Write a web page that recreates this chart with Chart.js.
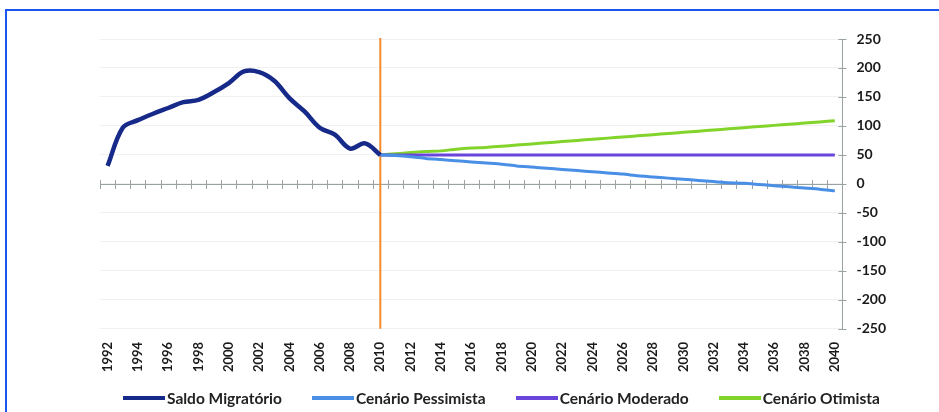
<!DOCTYPE html>
<html>
<head>
<meta charset="utf-8">
<script src="https://cdn.jsdelivr.net/npm/chart.js@4.4.1/dist/chart.umd.min.js"></script>
<style>
  html, body { margin: 0; padding: 0; background: #fff; overflow: hidden; }
  #marco { position: absolute; left: 5px; top: 9px; width: 2000px; height: 1000px;
           border-left: 2px solid #1a56ee; border-top: 2px solid #1a56ee; }
  #grafico { position: absolute; left: 0; top: 0; }
  #legenda { position: absolute; left: 123px; top: 389px; display: flex; gap: 30px;
             font: bold 15.5px Lato, "Open Sans", sans-serif; color: #222; white-space: nowrap; }
  #legenda .item { display: flex; align-items: center; }
  #legenda .traco { width: 42px; height: 4px; margin-right: 2px; }
</style>
</head>
<body>
<div id="marco"></div>
<canvas id="grafico" width="939" height="412"></canvas>
<div id="legenda"></div>
<script>
// Anos do eixo horizontal (1992-2040)
const anos = [];
for (let a = 1992; a <= 2040; a++) anos.push(String(a));

// Saldo migratorio observado 1992-2010
const saldoMigratorio = [31, 97, 110, 121, 131, 141, 145, 158, 174, 194, 193, 178, 148, 125, 97, 85, 61, 70, 50];

// Cenarios 2010-2040
const cenarioPessimista = [50, 49, 47, 44, 42, 40, 38, 36, 34, 31, 29, 27, 25, 23, 21, 19, 17, 14, 12, 10, 8, 6, 4, 2, 1, -1, -3, -5, -7, -9, -12];
const cenarioModerado = [50, 50, 50, 50, 50, 50, 50, 50, 50, 50, 50, 50, 50, 50, 50, 50, 50, 50, 50, 50, 50, 50, 50, 50, 50, 50, 50, 50, 50, 50, 50];
const cenarioOtimista = [50, 52, 54, 56, 57, 60, 62, 63, 65, 67, 69, 71, 73, 75, 77, 79, 81, 83, 85, 87, 89, 91, 93, 95, 97, 99, 101, 103, 105, 107, 109];

const yTicks = [-250, -200, -150, -100, -50, 0, 50, 100, 150, 200, 250];
const anoCorte = '2010';

// completa com null para alinhar com o eixo
const inicioCenarios = anos.indexOf(anoCorte);
const antes = (arr) => arr.concat(new Array(anos.length - arr.length).fill(null));
const depois = (arr) => new Array(inicioCenarios).fill(null).concat(arr);

const eixoCero = {
  id: 'eixoCero',
  beforeDatasetsDraw(chart) {
    const { ctx, chartArea, scales: { x, y } } = chart;
    const y0 = Math.round(y.getPixelForValue(0));
    const passo = x.getPixelForValue(1) - x.getPixelForValue(0);
    ctx.save();
    ctx.strokeStyle = '#9aa3a3';
    ctx.lineWidth = 1;
    ctx.beginPath();
    ctx.moveTo(chartArea.left, y0 + 0.5);
    ctx.lineTo(chartArea.right, y0 + 0.5);
    for (let i = 0; i <= anos.length; i++) {
      const px = Math.round(x.getPixelForValue(0) - passo / 2 + i * passo) + 0.5;
      ctx.moveTo(px, y0 - 4);
      ctx.lineTo(px, y0 + 5);
    }
    yTicks.forEach(v => {
      const py = Math.round(y.getPixelForValue(v)) + 0.5;
      ctx.moveTo(chartArea.right - 4, py);
      ctx.lineTo(chartArea.right + 4, py);
    });
    ctx.stroke();
    // linha vertical laranja em 2010
    const xc = x.getPixelForValue(anos.indexOf(anoCorte));
    ctx.strokeStyle = '#f28a2e';
    ctx.lineWidth = 2;
    ctx.beginPath();
    ctx.moveTo(xc, chartArea.top - 1);
    ctx.lineTo(xc, chartArea.bottom);
    ctx.stroke();
    ctx.restore();
  }
};

const fonte = 'Lato, "Open Sans", sans-serif';

const grafico = new Chart(document.getElementById('grafico'), {
  type: 'line',
  data: {
    labels: anos,
    datasets: [
      { label: 'Saldo Migratório', data: antes(saldoMigratorio), borderColor: '#172a8a', backgroundColor: '#172a8a', borderWidth: 4.5, tension: 0.35, pointRadius: 0 },
      { label: 'Cenário Pessimista', data: depois(cenarioPessimista), borderColor: '#4a8fe6', backgroundColor: '#4a8fe6', borderWidth: 3, tension: 0.2, pointRadius: 0 },
      { label: 'Cenário Moderado', data: depois(cenarioModerado), borderColor: '#6a45dc', backgroundColor: '#6a45dc', borderWidth: 3, pointRadius: 0 },
      { label: 'Cenário Otimista', data: depois(cenarioOtimista), borderColor: '#82d42a', backgroundColor: '#82d42a', borderWidth: 3, tension: 0.2, pointRadius: 0 }
    ]
  },
  options: {
    responsive: false,
    animation: false,
    layout: { padding: { left: 100, right: 39, top: 39, bottom: 35 } },
    scales: {
      x: {
        offset: true,
        grid: { display: false },
        border: { display: false },
        ticks: {
          autoSkip: false,
          minRotation: 90,
          maxRotation: 90,
          padding: 5,
          color: '#1a1a1a',
          font: { family: fonte, size: 13, weight: 'bold' },
          callback: function(v, i) { return i % 2 === 0 ? this.getLabelForValue(v) : ''; }
        }
      },
      y: {
        position: 'right',
        min: -250,
        max: 250,
        grid: { color: '#f1f1f1', drawTicks: false },
        border: { display: true, color: '#9aa3a3' },
        ticks: {
          stepSize: 50,
          padding: 14,
          color: '#1a1a1a',
          font: { family: fonte, size: 14, weight: 'bold' }
        }
      }
    },
    plugins: {
      tooltip: { enabled: false },
      legend: { display: false }
    }
  },
  plugins: [eixoCero]
});

// legenda em HTML a partir das series
const legenda = document.getElementById('legenda');
grafico.data.datasets.forEach(ds => {
  const item = document.createElement('div');
  item.className = 'item';
  const traco = document.createElement('span');
  traco.className = 'traco';
  traco.style.background = ds.borderColor;
  const texto = document.createElement('span');
  texto.textContent = ds.label;
  item.appendChild(traco);
  item.appendChild(texto);
  legenda.appendChild(item);
});
</script>
</body>
</html>
